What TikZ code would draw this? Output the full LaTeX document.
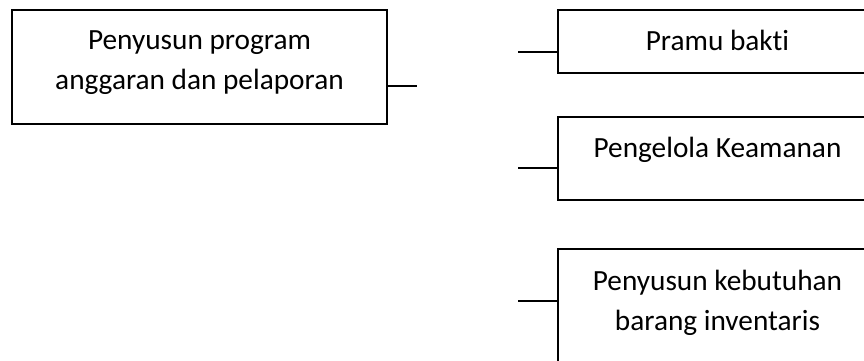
\documentclass[tikz,border=0pt]{standalone}
\usepackage{fontspec}
\setmainfont{Carlito}[RawFeature=-liga]
\usepackage{tikz}

\tikzset{
  unitbox/.style={draw=black, line width=1.6pt, rectangle, inner sep=0pt},
  unittext/.style={align=center, inner sep=0pt, font=\fontsize{29.3}{40}\selectfont},
  link/.style={line width=1.6pt}
}

\begin{document}
\begin{tikzpicture}[x=1pt, y=-1pt]

\useasboundingbox (0,0) rectangle (864,360);
\clip (0,0) rectangle (864,360);

% Left box
\node[unitbox, minimum width=375pt, minimum height=114pt] (prog) at (199.5,67) {};
\node[unittext] (progtxt) at (199.5,63) {Penyusun program\\anggaran dan pelaporan};

% Right boxes (cut off at the edges)
\node[unitbox, minimum width=319pt, minimum height=63pt] (pramu) at (717.5,41.5) {};
\node[unittext, anchor=base] (pramutxt) at (717.5,50) {Pramu bakti};

\node[unitbox, minimum width=319pt, minimum height=83pt] (aman) at (717.5,158.5) {};
\node[unittext, anchor=base] (amantxt) at (717.5,157) {Pengelola Keamanan};

\node[unitbox, minimum width=319pt, minimum height=121pt] (barang) at (717.5,309.5) {};
\node[unittext] (barangtxt) at (717.5,303) {Penyusun kebutuhan\\barang inventaris};

% Connectors
\coordinate (progend) at (417,86);
\coordinate (pramustart) at (518,52);
\coordinate (amanstart) at (518,168);
\coordinate (barangstart) at (518,301);

\draw[link] (progend -| prog.east) -- (progend);
\draw[link] (pramustart) -- (pramustart -| pramu.west);
\draw[link] (amanstart) -- (amanstart -| aman.west);
\draw[link] (barangstart) -- (barangstart -| barang.west);

\end{tikzpicture}
\end{document}
